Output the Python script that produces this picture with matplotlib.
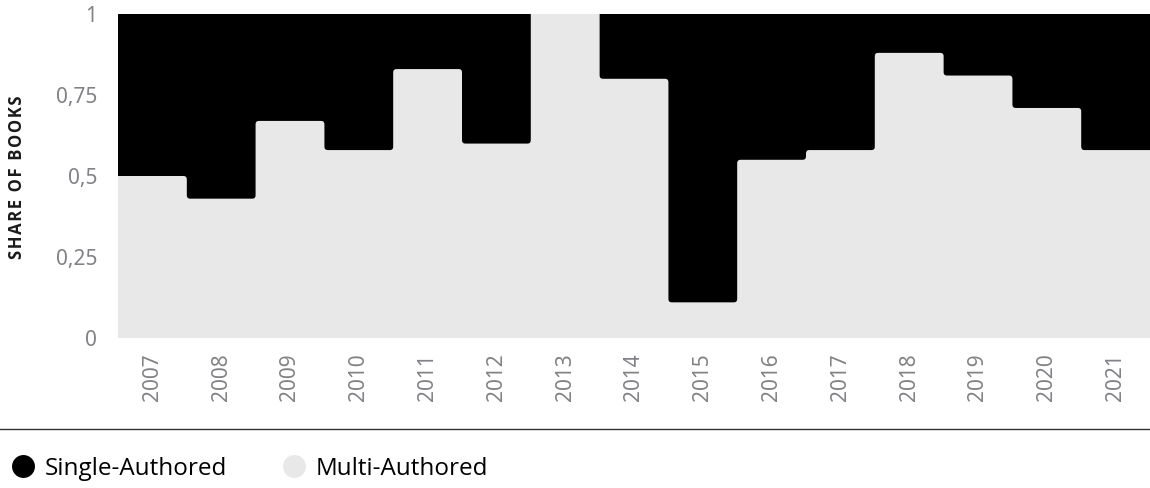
import numpy as np
import matplotlib.pyplot as plt
from matplotlib.lines import Line2D

years = list(range(2007, 2022))
multi_authored = [0.50, 0.43, 0.67, 0.58, 0.83, 0.60, 1.00, 0.80, 0.11, 0.55, 0.58, 0.88, 0.81, 0.71, 0.58]
single_authored = [0.50, 0.57, 0.33, 0.42, 0.17, 0.40, 0.00, 0.20, 0.89, 0.45, 0.42, 0.12, 0.19, 0.29, 0.42]
y_ticks = [0, 0.25, 0.5, 0.75, 1]
y_ticklabels = ["0", "0,25", "0,5", "0,75", "1"]

BLACK = "#000000"
GREY = "#e8e8e8"
TICK_COLOR = "#808285"

W, H = 1150, 488
plt.rcParams["font.family"] = ["Noto Sans", "DejaVu Sans"]


def rounded_boundary(edges, levels, rx, ry):
    # staircase between the two series, with softly rounded corners
    verts = [(edges[0], levels[0])]
    for i in range(1, len(levels)):
        if levels[i] != levels[i - 1]:
            verts.append((edges[i], levels[i - 1]))
            verts.append((edges[i], levels[i]))
    verts.append((edges[-1], levels[-1]))

    pts = [verts[0]]
    for k in range(1, len(verts) - 1):
        p = np.array(verts[k])
        prev = np.array(verts[k - 1])
        nxt = np.array(verts[k + 1])
        if p[1] >= 1 or p[1] <= 0:
            pts.append(tuple(p))
            continue
        d_in = np.sign(p - prev)
        d_out = np.sign(nxt - p)
        a = p - d_in * np.array([rx, ry])
        b = p + d_out * np.array([rx, ry])
        for t in np.linspace(0, 1, 9):
            q = (1 - t) ** 2 * a + 2 * t * (1 - t) * p + t ** 2 * b
            pts.append(tuple(q))
    pts.append(verts[-1])
    return pts


fig = plt.figure(figsize=(W / 100, H / 100), dpi=100)
ax = fig.add_axes([118 / W, 150 / H, 1032 / W, 324 / H])

n = len(years)
edges = np.arange(n + 1)
bottom = np.array(multi_authored)
top = bottom + np.array(single_authored)

r_px = 3.5
rx = r_px * n / 1032
ry = r_px / 324
boundary = rounded_boundary(edges, list(bottom), rx, ry)
bx = [p[0] for p in boundary]
by = [p[1] for p in boundary]

ax.fill(bx + [edges[-1], edges[0]], by + [0, 0], color=GREY, lw=0)
ax.fill(bx + [edges[-1], edges[0]], by + [top[-1], top[0]], color=BLACK, lw=0)

ax.set_xlim(0, n)
ax.set_ylim(0, 1)
ax.set_xticks(edges[:-1] + 0.5)
ax.set_xticklabels([str(y) for y in years], rotation=90, fontsize=15,
                   color=TICK_COLOR, fontweight="light")
ax.set_yticks(y_ticks)
ax.set_yticklabels(y_ticklabels, fontsize=15, color=TICK_COLOR, fontweight="light")
ax.tick_params(axis="x", length=0, pad=11)
ax.tick_params(axis="y", length=0, pad=15)
for s in ax.spines.values():
    s.set_visible(False)

label = "\u200a".join("SHARE OF BOOKS")
fig.text(17 / W, 1 - 177 / H, label, rotation=90, ha="center", va="center",
         fontsize=12, fontweight="bold", color="#1a1a1a",
         family=["Open Sans", "DejaVu Sans"])

fig.add_artist(Line2D([0, 1], [1 - 428.5 / H] * 2, transform=fig.transFigure,
                      color="#333333", lw=1))

handles = [
    Line2D([], [], marker="o", ls="", markersize=15.5, color=BLACK, label="Single-Authored"),
    Line2D([], [], marker="o", ls="", markersize=15.5, color=GREY, label="Multi-Authored"),
]
fig.legend(handles=handles, loc="center left", bbox_to_anchor=(0.0, 1 - 469 / H),
           ncol=2, frameon=False, prop={"family": ["Open Sans", "DejaVu Sans"], "size": 17.5},
           handletextpad=0.35, columnspacing=2.2, borderaxespad=0, handlelength=1.1)

fig.savefig("out.png", dpi=100)
